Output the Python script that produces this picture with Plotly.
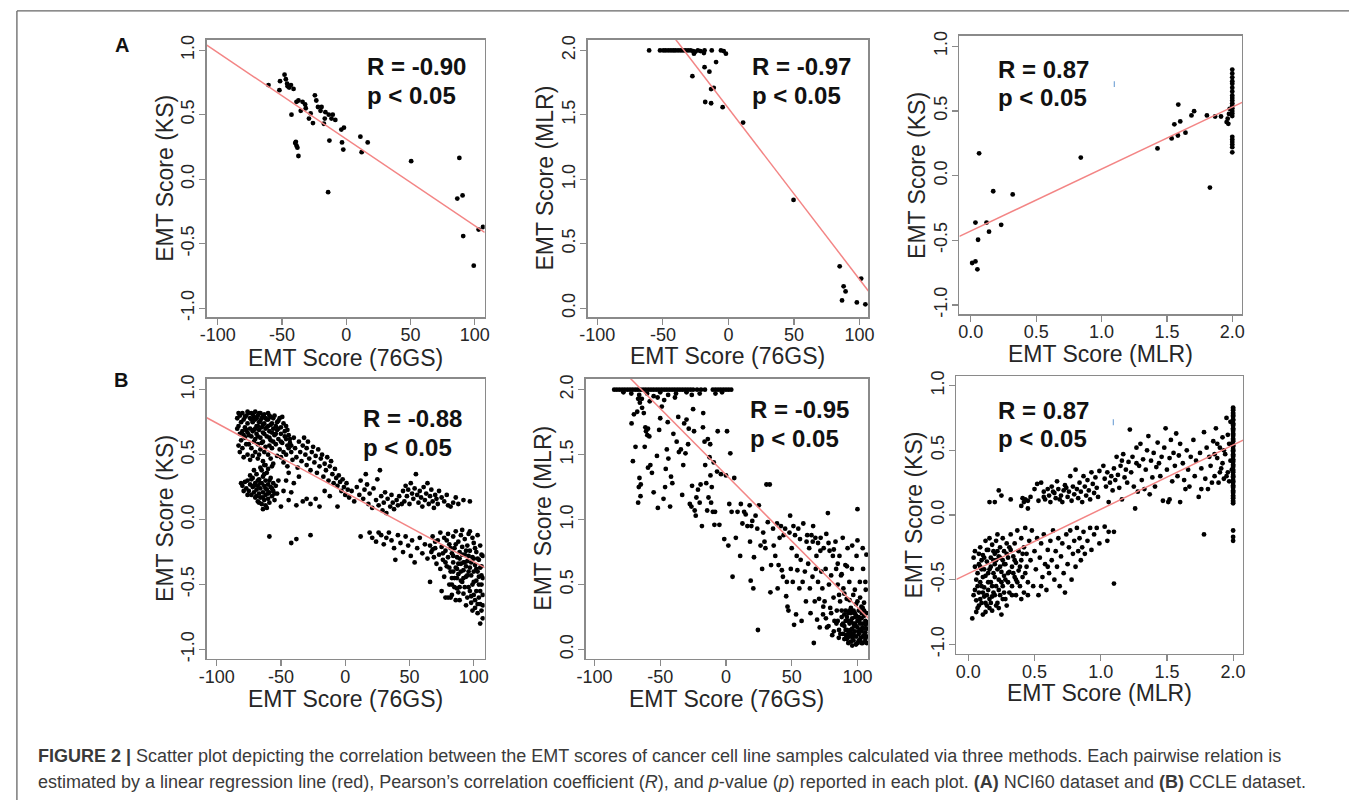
import plotly.graph_objects as go

W, H = 1355, 804

# ---------------- DATA ----------------
# Panel A1 : NCI60, KS vs 76GS
a1_x = [-60.5, -52, -51.5, -48, -47, -45.6, -44.4, -43, -42.6, -38.7, -37.2, -35.4, -34, -32, -31.5,
        -39.2, -38.7, -38, -37.2, -39.7, -29, -27.7, -25.9, -24.4, -23.3, -22, -20, -19.2, -17.4, -16.7,
        -16.2, -13.6, -13.1, -11.5, -10.5, -8.5, -14.1, -3.8, -1.8, -3.3, -2.3, 11, 12, 16.7, 50.5, 88,
        86.4, 90.5, 91, 99.2, 103, 106.4, -46, -41]
a1_y = [0.73, 0.69, 0.76, 0.81, 0.775, 0.72, 0.71, 0.73, 0.50, 0.60, 0.61, 0.53, 0.60, 0.58, 0.55,
        0.29, 0.26, 0.245, 0.18, 0.28, 0.47, 0.51, 0.435, 0.65, 0.61, 0.56, 0.53, 0.56, 0.43, 0.47,
        0.52, 0.50, 0.30, 0.47, 0.50, 0.46, -0.10, 0.385, 0.40, 0.285, 0.23, 0.33, 0.21, 0.285, 0.14, 0.165,
        -0.15, -0.125, -0.44, -0.67, -0.39, -0.37, 0.74, 0.70]

# Panel A2 : NCI60, MLR vs 76GS
a2_x = [-60.5, -52.2, -49.7, -47.9, -45.9, -43.9, -42.1, -40.4, -38.4, -36.4, -34.6, -32.8, -30.8, -28.8,
        -27, -25.3, -23.3, -21.3, -18.2, -12.7, -5.7, -3.6, -1.9, -26.3, -18.7, -27.5, -18.2, -14.5, -9.4,
        -13.2, -11.2, -17.7, -13.2, -4.4, 11.2, 49.7, 84.9, 87.9, 89.4, 86.7, 101.3, 98, 104.5]
a2_y = [2.0, 2.0, 2.0, 2.0, 2.0, 2.0, 2.0, 2.0, 2.0, 2.0, 2.0, 2.0, 2.0, 2.0,
        1.995, 1.99, 2.0, 1.995, 2.0, 2.0, 2.0, 1.995, 1.975, 1.975, 1.98, 1.80, 1.87, 1.835, 1.91,
        1.70, 1.71, 1.60, 1.59, 1.56, 1.44, 0.84, 0.325, 0.17, 0.13, 0.06, 0.23, 0.045, 0.03]

# Panel A3 : NCI60, KS vs MLR
a3_x = [0.063, 0.035, 0.055, 0.01, 0.035, 0.05, 0.12, 0.139, 0.171, 0.232, 0.32, 0.841, 1.428, 1.536,
        1.557, 1.584, 1.587, 1.602, 1.642, 1.688, 1.708, 1.806, 1.829, 1.869, 1.914, 1.957, 1.965, 1.975,
        1.98, 1.97,
        2.0, 2.0, 2.0, 2.0, 2.0, 2.0, 2.0, 2.0, 2.0, 2.0, 2.0, 2.0, 2.0, 2.0, 2.0, 2.0,
        2.0, 2.0, 2.0, 2.0, 2.0, 2.0]
a3_y = [0.172, -0.363, -0.496, -0.676, -0.664, -0.725, -0.363, -0.434, -0.121, -0.381, -0.146, 0.139, 0.21, 0.287,
        0.396, 0.31, 0.549, 0.419, 0.332, 0.465, 0.498, 0.465, -0.093, 0.457, 0.457, 0.414, 0.44, 0.477,
        0.516, 0.40,
        0.82, 0.79, 0.76, 0.73, 0.71, 0.68, 0.65, 0.62, 0.60, 0.58, 0.56, 0.54, 0.52, 0.50, 0.48, 0.46,
        0.30, 0.28, 0.26, 0.24, 0.22, 0.18]

# Panel B1 : CCLE, KS vs 76GS
b1_x = [-84, -83, -82, -81, -80, -80, -79, -78, -78, -77, -76, -76, -75, -75, -74, -74, -73, -73, -72, -72,
        -71, -71, -70, -70, -70, -69, -69, -68, -68, -67, -67, -66, -66, -66, -65, -65, -64, -64, -63, -63,
        -62, -62, -61, -61, -60, -60, -60, -59, -58, -58, -57, -57, -56, -55, -55, -54, -53, -53, -52, -51,
        -51, -50, -50, -49, -48, -48, -47, -46, -45, -44, -83, -82, -80, -79, -77, -76, -74, -72, -68, -64,
        -62, -58, -56, -53, -70, -67, -63, -59, -52, -49, -46, -44,
        -81, -80, -78, -77, -76, -75, -74, -73, -72, -72, -71, -70, -70, -69, -69, -68, -68, -67, -67, -66,
        -66, -65, -65, -65, -64, -64, -63, -63, -62, -62, -62, -61, -61, -60, -60, -59, -59, -58, -58, -57,
        -56, -56, -55, -54, -53, -52, -66, -63, -60, -57, -71, -74, -61, -64,
        -50, -48, -46, -45, -43, -42, -41, -40, -39, -38, -37, -36, -35, -34, -33, -32, -31, -30, -30, -29,
        -28, -27, -26, -25, -24, -23, -22, -21, -20, -19, -18, -17, -16, -15, -14, -13, -12, -11, -10, -9,
        -8, -7, -6, -5, -4, -3, -2, -1, 0, 1, 2, -44, -40, -36, -46, -48, -44, -38, -33, -30,
        -27, -20, -23, -6, -12, -16, -42, -50,
        -59, -42, -38, -27,
        3, 5, 7, 9, 11, 12, 14, 15, 17, 18, 19, 21, 22, 24, 25, 26, 28, 29, 30, 31,
        32, 33, 35, 36, 37, 38, 40, 41, 42, 44, 45, 46, 47, 48, 49, 50, 51, 52, 53, 54,
        55, 56, 57, 58, 59, 60, 61, 62, 63, 64, 65, 66, 67, 68, 69, 70, 71, 72, 73, 75,
        77, 79, 80, 82, 84, 86, 88, 92, 97, 27, 16,
        12, 19, 21, 24, 26, 28, 30, 32, 34, 36, 38, 39, 41, 43, 45, 47, 49, 51, 52, 54,
        56, 58, 60, 62, 64, 66, 68, 70,
        66, 67, 68, 69, 70, 71, 72, 73, 74, 74, 75, 76, 77, 77, 78, 79, 80, 80, 81, 81,
        82, 83, 83, 84, 84, 85, 85, 86, 86, 87, 87, 88, 88, 89, 89, 90, 90, 91, 91, 92,
        92, 93, 93, 94, 94, 95, 95, 96, 96, 97, 97, 98, 98, 99, 99, 100, 100, 101, 101, 102,
        102, 103, 103, 104, 104, 105, 105, 106, 106, 107, 107, 107, 105, 101, 98, 95, 92, 89, 86, 83,
        80, 78, 82, 75, 88, 94, 99, 103, 97, 91, 106, 104, 102, 100, 96, 93, 90, 87, 84,
        -84, -83, -82, -81, -79, -78, -77, -76, -75, -73, -73, -72, -71, -70, -69, -68, -68, -67, -66, -65,
        -64, -64, -63, -62, -61, -60, -59, -59, -58, -57, -56, -56, -54, -54, -52, -50, -47, -45, -43, -42,
        -79, -76, -73, -71, -69, -68, -67, -66, -64, -63, -62, -60, -59, -57, -55,
        76, 78, 79, 81, 82, 83, 84, 85, 86, 87, 88, 89, 90, 91, 92, 93, 94, 95, 96, 97,
        98, 99, 100, 101, 102, 103, 104, 105, 106, 107, 105, 103, 107, 106, 100]
b1_y = [0.78, 0.72, 0.80, 0.75, 0.68, 0.82, 0.77, 0.71, 0.63, 0.80, 0.74, 0.67, 0.82, 0.58, 0.78, 0.70, 0.64, 0.55, 0.81, 0.75,
        0.69, 0.60, 0.83, 0.77, 0.52, 0.72, 0.66, 0.80, 0.58, 0.75, 0.69, 0.82, 0.63, 0.54, 0.78, 0.71, 0.67, 0.60, 0.81, 0.74,
        0.70, 0.56, 0.77, 0.64, 0.82, 0.72, 0.50, 0.68, 0.79, 0.61, 0.74, 0.55, 0.70, 0.80, 0.65, 0.58, 0.75, 0.69, 0.62, 0.78,
        0.54, 0.71, 0.66, 0.59, 0.74, 0.52, 0.68, 0.62, 0.57, 0.65, 0.57, 0.52, 0.55, 0.48, 0.58, 0.50, 0.46, 0.49, 0.47, 0.45,
        0.42, 0.47, 0.43, 0.49, 0.62, 0.50, 0.52, 0.57, 0.70, 0.79, 0.72, 0.55,
        0.28, 0.26, 0.29, 0.24, 0.30, 0.22, 0.27, 0.19, 0.25, 0.32, 0.21, 0.17, 0.28, 0.23, 0.35, 0.14, 0.26, 0.20, 0.31, 0.17,
        0.24, 0.12, 0.28, 0.38, 0.21, 0.33, 0.15, 0.26, 0.19, 0.11, 0.30, 0.23, 0.36, 0.16, 0.27, 0.21, 0.13, 0.25, 0.32, 0.18,
        0.22, 0.28, 0.15, 0.26, 0.20, 0.30, 0.40, 0.42, 0.39, 0.41, 0.38, 0.34, 0.09, 0.08,
        0.48, 0.44, 0.50, 0.41, 0.59, 0.52, 0.46, 0.63, 0.55, 0.48, 0.40, 0.60, 0.52, 0.45, 0.57, 0.63, 0.50, 0.42, 0.55, 0.60,
        0.47, 0.38, 0.52, 0.56, 0.44, 0.49, 0.36, 0.54, 0.41, 0.47, 0.50, 0.33, 0.43, 0.38, 0.48, 0.30, 0.41, 0.45, 0.35, 0.28,
        0.39, 0.32, 0.26, 0.34, 0.29, 0.22, 0.31, 0.25, 0.19, 0.28, 0.23, 0.36, 0.28, 0.33, 0.30, 0.22, 0.15, 0.11, 0.14, 0.16,
        0.12, 0.10, 0.16, 0.10, 0.18, 0.22, 0.21, 0.10,
        -0.13, -0.18, -0.15, -0.12,
        0.17, 0.22, 0.14, 0.25, 0.19, 0.30, 0.16, 0.23, 0.27, 0.12, 0.20, 0.09, 0.24, 0.15, 0.31, 0.11, 0.18, 0.07, 0.13, 0.21,
        0.05, 0.16, 0.10, 0.19, 0.13, 0.08, 0.15, 0.11, 0.18, 0.12, 0.22, 0.14, 0.26, 0.18, 0.23, 0.12, 0.28, 0.20, 0.16, 0.24,
        0.35, 0.19, 0.13, 0.22, 0.17, 0.10, 0.25, 0.15, 0.20, 0.28, 0.12, 0.18, 0.23, 0.14, 0.09, 0.19, 0.16, 0.12, 0.22, 0.17,
        0.14, 0.19, 0.11, 0.10, 0.13, 0.17, 0.12, 0.15, 0.14, 0.38, 0.35,
        -0.13, -0.10, -0.14, -0.17, -0.10, -0.12, -0.19, -0.14, -0.10, -0.16, -0.22, -0.31, -0.12, -0.18, -0.25, -0.13, -0.20, -0.28, -0.16, -0.33,
        -0.22, -0.14, -0.26, -0.19, -0.30, -0.48, -0.23, -0.17,
        -0.20, -0.25, -0.13, -0.29, -0.22, -0.34, -0.16, -0.27, -0.10, -0.38, -0.21, -0.31, -0.14, -0.44, -0.24, -0.36, -0.11, -0.29, -0.50, -0.19,
        -0.40, -0.26, -0.58, -0.13, -0.33, -0.45, -0.22, -0.37, -0.09, -0.29, -0.53, -0.17, -0.42, -0.25, -0.62, -0.34, -0.12, -0.48, -0.21, -0.39,
        -0.57, -0.27, -0.15, -0.44, -0.66, -0.32, -0.20, -0.52, -0.11, -0.37, -0.24, -0.59, -0.43, -0.29, -0.70, -0.18, -0.48, -0.35, -0.62, -0.25,
        -0.55, -0.40, -0.72, -0.31, -0.50, -0.20, -0.65, -0.43, -0.36, -0.58, -0.28, -0.76, -0.80, -0.68, -0.64, -0.60, -0.45, -0.52, -0.62, -0.50,
        -0.60, -0.60, -0.60, -0.55, -0.34, -0.24, -0.14, -0.12, -0.09, -0.08, -0.50, -0.44, -0.38, -0.30, -0.28, -0.33, -0.40, -0.45, -0.40,
        0.70, 0.82, 0.66, 0.61, 0.65, 0.79, 0.69, 0.83, 0.65, 0.77, 0.82, 0.68, 0.79, 0.70, 0.78, 0.72, 0.64, 0.82, 0.76, 0.59,
        0.80, 0.73, 0.66, 0.78, 0.71, 0.77, 0.80, 0.63, 0.73, 0.67, 0.78, 0.60, 0.72, 0.66, 0.76, 0.60, 0.64, 0.69, 0.62, 0.57,
        0.22, 0.19, 0.31, 0.26, 0.18, 0.30, 0.13, 0.28, 0.17, 0.35, 0.24, 0.20, 0.30, 0.24, 0.20,
        -0.26, -0.33, -0.16, -0.37, -0.22, -0.45, -0.28, -0.52, -0.19, -0.38, -0.56, -0.30, -0.47, -0.27, -0.33, -0.52, -0.36, -0.43, -0.40, -0.55,
        -0.33, -0.50, -0.40, -0.22, -0.47, -0.30, -0.60, -0.37, -0.27, -0.45, -0.55, -0.65, -0.66, -0.70, -0.58]

# Panel B2 : CCLE, MLR vs 76GS
b2_x = [-85, -83, -81, -79, -77, -75, -73, -71, -69, -67, -65, -63, -61, -59, -57, -55, -53, -51, -49, -47,
        -45, -43, -41, -39, -37, -35, -33, -31, -29, -27, -25, -22, -19, -16, -10, -8, -6, -4, -2, 0, 2, 4,
        -78, -72, -66, -60, -55, -50, -44, -38, -30, -26, -20, -8, -3, -64, -58, -52, -47,
        -71.8, -70, -67.5, -65.5, -66.8, -63.8, -62.5, -61.3, -60.8, -59.8, -59.3, -58.3, -68.8, -70.8, -65.8, -64.8,
        -66.3, -66.8, -65, -61.8, -59.3, -57.5, -56.3, -52.5, -55, -51.8, -50.8, -50, -48.8, -47.5, -46.3, -45.8,
        -45, -44.3, -43.8, -42.5, -41.8, -40.8, -40, -38.8, -37.5, -36.3, -35.8, -34.3, -33.3, -32.5, -31.8, -30.8,
        -30, -28.8, -28.3, -27.5, -26.3, -25.8, -25, -24.3, -23.8, -23, -22.5, -21.3, -20, -19.3, -18.3, -17.5,
        -17.3, -16.3, -15.8, -15, -14.3, -13.8, -13.3, -12.5, -12, -11.8, -11.3, -10.8, -10, -9.3, -8.8, -8.3,
        -6.8, -6.3, -5, -3.8, -1.3, 0, 0.8, 1.8, 2.5, 3.3, 4.3, 5, 6.3,
        7.5, 8.8, 10.8, 11.3, 12.5, 13.8, 15, 16.3, 18, 18.3, 18.8, 19.3, 20, 20.8, 21.3, 22.5, 23.8, 24.3, 25, 26.3,
        27.5, 28.3, 29.3, 30, 30.8, 31.8, 33.3, 33.8, 34.3, 35.8, 36.3, 37.5, 38.8, 39.3, 40, 40.8, 41.8, 42.5, 43.3, 43.8,
        45, 45.8, 46.3, 46.8, 47.5, 48.3, 48.8, 49.3, 50, 50.8, 51.3, 51.8, 52.5, 53.3, 53.8, 54.3, 55, 55.8, 56.3, 56.8,
        57.5, 58.3, 58.8, 60, 60.8, 61.3, 61.8, 62.5, 63.3, 63.8, 64.3, 65, 65.8, 66.3, 66.8, 67.5, 68.3, 68.8, 69.3, 70,
        70.8, 71.3, 71.8, 72.5, 73.3, 73.8, 74.3, 75, 75.8, 76.3, 76.8, 77.5, 78.3, 78.8, 79.3, 80, 80.8, 81.3, 81.8, 82.5,
        83.3, 83.8, 84.3, 85, 85.8, 86.3, 86.8, 87.5, 88.3, 88.8, 89.3, 90, 90.8, 91.3, 91.8, 92.5, 93.3, 93.8, 94.3, 95,
        95.8, 96.3, 96.8, 97.5, 98.3, 98.8, 99.3, 100, 100, 100.8, 101.3, 101.8, 102.5, 103.3, 103.8, 104.3, 105, 105.8, 106.3, 106.3,
        106.8,
        88, 89, 90, 91, 92, 92, 93, 94, 94, 95, 95, 96, 96, 97, 97, 98, 98, 99, 99, 100,
        100, 101, 101, 102, 102, 103, 103, 104, 104, 105, 105, 106, 106, 107, 107, 107, 104, 99, 96, 93,
        86, 84, 82, 78, 76, 74, 80, 86, 90, 94, 98, 102, 106, 92, 88, 85, 82, 96, 100, 104,
        78, 72, 70, 68, 66,
        85, 87, 88, 89, 90, 91, 92, 93, 94, 95, 96, 97, 98, 99, 100, 101, 102, 103, 104, 105,
        106, 107, 103, 99, 95, 91, 97, 101, 105, 107]
b2_y = [2.0, 2.0, 2.0, 2.0, 2.0, 2.0, 2.0, 2.0, 2.0, 2.0, 2.0, 2.0, 2.0, 2.0, 2.0, 2.0, 2.0, 2.0, 2.0, 2.0,
        2.0, 2.0, 2.0, 2.0, 2.0, 2.0, 2.0, 2.0, 2.0, 2.0, 2.0, 2.0, 2.0, 2.0, 2.0, 2.0, 2.0, 2.0, 2.0, 2.0, 2.0, 2.0,
        1.98, 1.97, 1.96, 1.97, 1.95, 1.98, 1.96, 1.97, 1.98, 1.96, 1.97, 1.97, 1.98, 1.93, 1.91, 1.94, 1.92,
        1.74, 1.81, 1.83, 1.90, 1.93, 1.86, 1.82, 1.71, 1.68, 1.65, 1.70, 1.64, 1.56, 1.45, 1.32, 1.27,
        1.25, 1.13, 1.18, 1.56, 1.40, 1.42, 1.36, 1.49, 1.21, 1.09, 1.69, 1.78, 1.87, 1.16, 1.25, 1.39,
        1.54, 1.75, 1.47, 1.10, 1.33, 1.28, 1.66, 1.94, 1.60, 1.79, 1.52, 1.54, 1.19, 1.42, 1.74, 1.51,
        1.77, 1.58, 1.70, 1.12, 1.10, 1.26, 1.85, 1.68, 1.07, 1.03, 1.17, 1.23, 1.13, 1.27, 0.95, 1.71,
        1.82, 1.60, 1.42, 1.28, 1.07, 1.62, 1.17, 1.48, 1.58, 1.34, 1.13, 1.25, 1.06, 1.44, 0.96, 1.06,
        1.37, 1.68, 0.96, 1.35, 0.85, 1.34, 1.68, 0.80, 1.12, 1.51, 1.06, 0.56, 1.32,
        0.86, 1.06, 0.72, 1.12, 0.97, 1.06, 1.04, 0.95, 1.11, 0.83, 0.53, 0.95, 0.99, 0.47, 0.71, 1.03, 0.93, 0.15, 1.11, 0.80,
        0.62, 0.90, 0.83, 0.78, 1.27, 0.98, 1.27, 0.44, 0.65, 0.93, 0.80, 0.72, 0.97, 0.47, 0.65, 0.86, 0.95, 0.61, 0.56, 0.88,
        0.93, 0.41, 0.52, 0.33, 0.30, 0.90, 1.03, 0.62, 0.78, 0.52, 0.95, 0.19, 0.88, 0.27, 0.72, 0.61, 0.93, 0.47, 0.85, 0.69,
        0.22, 0.52, 0.97, 0.60, 0.37, 0.83, 0.88, 0.66, 0.78, 0.47, 0.28, 0.88, 0.56, 0.95, 0.05, 0.37, 0.62, 0.72, 0.23, 0.52,
        0.39, 0.17, 0.76, 0.60, 0.47, 0.27, 0.78, 0.37, 0.62, 0.89, 0.17, 1.05, 0.50, 0.76, 0.32, 0.57, 0.11, 0.72, 0.40, 0.22,
        0.83, 0.62, 0.30, 0.50, 0.09, 0.72, 0.37, 0.57, 0.19, 0.86, 0.47, 0.27, 0.65, 0.11, 0.39, 0.78, 0.22, 0.52, 0.14, 0.32,
        0.62, 0.09, 0.42, 0.18, 0.25, 0.04, 0.72, 1.08, 0.37, 0.14, 0.22, 0.52, 0.09, 0.28, 0.17, 0.62, 0.36, 0.06, 0.46, 0.19,
        0.73,
        0.25, 0.12, 0.18, 0.22, 0.08, 0.15, 0.28, 0.10, 0.20, 0.06, 0.15, 0.24, 0.12, 0.07, 0.30, 0.14, 0.20, 0.10, 0.26, 0.05,
        0.17, 0.12, 0.30, 0.20, 0.07, 0.14, 0.24, 0.10, 0.32, 0.16, 0.26, 0.08, 0.13, 0.21, 0.28, 0.10, 0.05, 0.04, 0.03, 0.05,
        0.15, 0.20, 0.14, 0.18, 0.24, 0.33, 0.28, 0.42, 0.43, 0.38, 0.46, 0.40, 0.52, 0.64, 0.58, 0.66, 0.77, 0.80, 0.84, 0.78,
        0.82, 0.86, 0.82, 0.86, 0.83,
        0.22, 0.12, 0.30, 0.20, 0.08, 0.15, 0.25, 0.12, 0.30, 0.22, 0.16, 0.12, 0.28, 0.18, 0.22, 0.07, 0.15, 0.05, 0.20, 0.11,
        0.22, 0.16, 0.33, 0.35, 0.28, 0.30, 0.20, 0.25, 0.30, 0.05]

# Panel B3 : CCLE, KS vs MLR
b3_x = [0.03, 0.04, 0.05, 0.05, 0.06, 0.07, 0.07, 0.08, 0.08, 0.09, 0.09, 0.10, 0.10, 0.11, 0.11, 0.12, 0.12, 0.13, 0.13, 0.14,
        0.14, 0.15, 0.15, 0.16, 0.16, 0.17, 0.17, 0.18, 0.18, 0.19, 0.19, 0.20, 0.20, 0.21, 0.21, 0.22, 0.22, 0.23, 0.23, 0.24,
        0.24, 0.25, 0.25, 0.26, 0.26, 0.27, 0.27, 0.28, 0.28, 0.29, 0.30, 0.30, 0.31, 0.31, 0.32, 0.32, 0.33, 0.33, 0.34, 0.35,
        0.35, 0.36, 0.36, 0.37, 0.38, 0.38, 0.39, 0.40, 0.40, 0.41, 0.42, 0.42, 0.43, 0.44, 0.44, 0.45, 0.46, 0.06, 0.09, 0.12,
        0.15, 0.18, 0.21, 0.24, 0.27, 0.29, 0.14, 0.17, 0.20, 0.23, 0.08, 0.11, 0.26, 0.22, 0.16, 0.36, 0.13, 0.19, 0.10,
        0.47, 0.48, 0.49, 0.50, 0.51, 0.52, 0.53, 0.54, 0.55, 0.56, 0.57, 0.58, 0.59, 0.60, 0.61, 0.62, 0.63, 0.64, 0.65, 0.66,
        0.67, 0.68, 0.69, 0.70, 0.71, 0.72, 0.73, 0.74, 0.75, 0.76, 0.77, 0.78, 0.79, 0.80, 0.81, 0.82, 0.83, 0.84, 0.85, 0.86,
        0.87, 0.88, 0.90, 0.92, 0.93, 0.95, 0.97, 0.99, 0.55, 0.45, 0.40, 0.60,
        0.16, 0.20, 0.23, 0.25, 0.32, 0.40, 0.41, 0.42, 0.43, 0.45, 0.47, 0.50, 0.52, 0.53, 0.55, 0.57, 0.58, 0.60, 0.61, 0.62,
        0.63, 0.65, 0.66, 0.67, 0.68, 0.70, 0.71, 0.72, 0.73, 0.75, 0.76, 0.77, 0.78, 0.79, 0.80, 0.81, 0.82, 0.83, 0.84, 0.85,
        0.86, 0.87, 0.88, 0.89, 0.90, 0.91, 0.92, 0.93, 0.94, 0.95, 0.96, 0.97, 0.98, 0.99, 0.57, 0.64, 0.74, 0.69, 0.45,
        1.02, 1.03, 1.04, 1.05, 1.06, 1.07, 1.08, 1.09, 1.10, 1.11, 1.12, 1.13, 1.14, 1.15, 1.16, 1.17, 1.18, 1.19, 1.20, 1.21,
        1.22, 1.23, 1.24, 1.25, 1.26, 1.27, 1.28, 1.29, 1.30, 1.31, 1.32, 1.33, 1.34, 1.35, 1.36, 1.37, 1.38, 1.39, 1.40, 1.41,
        1.42, 1.43, 1.45, 1.46, 1.47, 1.48, 1.49, 1.50, 1.51, 1.52, 1.53, 1.54, 1.55, 1.56, 1.57, 1.58, 1.59, 1.60, 1.62, 1.63,
        1.65, 1.66, 1.67, 1.68, 1.70, 1.71, 1.72, 1.74, 1.75, 1.76, 1.78, 1.79, 1.80, 1.81, 1.82, 1.83, 1.85, 1.86, 1.87, 1.88,
        1.89, 1.90, 1.91, 1.92, 1.93, 1.94, 1.95, 1.96, 1.97, 1.98, 1.98, 1.60, 1.52, 1.76, 1.16, 1.27, 1.44, 1.64,
        2.0, 2.0, 2.0, 2.0, 2.0, 2.0, 2.0, 2.0, 2.0, 2.0, 2.0, 2.0, 2.0, 2.0, 2.0, 2.0, 2.0, 2.0, 2.0, 2.0,
        2.0, 2.0, 2.0, 2.0, 2.0, 2.0, 2.0, 2.0, 2.0, 2.0, 2.0, 2.0, 2.0, 2.0, 2.0, 2.0, 2.0, 2.0,
        1.10, 1.78, 2.0, 2.0, 2.0, 1.05, 1.06, 1.10, 1.03,
        0.04, 0.05, 0.06, 0.07, 0.08, 0.09, 0.10, 0.11, 0.12, 0.13, 0.14, 0.15, 0.16, 0.17, 0.18, 0.19, 0.20, 0.21, 0.22, 0.23,
        0.24, 0.25, 0.26, 0.27, 0.28, 0.29, 0.30, 0.31, 0.33, 0.34, 0.35, 0.37, 0.39, 0.41, 0.43,
        1.84, 1.88, 1.92, 1.95, 1.96, 1.97, 1.93, 1.90, 1.86, 1.99,
        2.0, 2.0, 2.0, 2.0, 2.0, 2.0, 2.0, 2.0, 2.0, 2.0, 2.0, 2.0, 2.0, 2.0, 2.0, 2.0, 2.0, 2.0, 2.0]
b3_y = [-0.80, -0.33, -0.58, -0.28, -0.66, -0.45, -0.72, -0.38, -0.60, -0.25, -0.52, -0.68, -0.42, -0.77, -0.31, -0.56, -0.63, -0.20, -0.47, -0.36,
        -0.70, -0.58, -0.27, -0.42, -0.65, -0.33, -0.52, -0.23, -0.74, -0.45, -0.60, -0.30, -0.38, -0.55, -0.20, -0.68, -0.42, -0.32, -0.50, -0.25,
        -0.62, -0.44, -0.77, -0.35, -0.55, -0.28, -0.47, -0.65, -0.38, -0.22, -0.52, -0.33, -0.44, -0.60, -0.27, -0.15, -0.40, -0.55, -0.32, -0.48,
        -0.22, -0.62, -0.37, -0.12, -0.43, -0.28, -0.55, -0.35, -0.18, -0.48, -0.25, -0.60, -0.10, -0.40, -0.30, -0.52, -0.20, -0.50, -0.40, -0.33,
        -0.45, -0.55, -0.35, -0.40, -0.60, -0.70, -0.62, -0.68, -0.62, -0.72, -0.70, -0.48, -0.18, -0.15, -0.18, -0.50, -0.75, -0.28, -0.55,
        -0.35, -0.12, -0.55, -0.28, -0.42, -0.18, -0.62, -0.33, -0.22, -0.48, -0.15, -0.38, -0.58, -0.27, -0.45, -0.20, -0.35, -0.12, -0.50, -0.28,
        -0.40, -0.18, -0.55, -0.32, -0.22, -0.45, -0.60, -0.15, -0.38, -0.25, -0.12, -0.50, -0.30, -0.20, -0.40, -0.10, -0.28, -0.18, -0.35, -0.25,
        -0.13, -0.30, -0.20, -0.10, -0.27, -0.15, -0.10, -0.22, -0.55, -0.62, -0.65, -0.40,
        0.10, 0.10, 0.19, 0.15, 0.12, 0.07, 0.13, 0.10, 0.12, 0.05, 0.14, 0.20, 0.24, 0.11, 0.25, 0.18, 0.12, 0.20, 0.15, 0.10,
        0.22, 0.17, 0.13, 0.26, 0.20, 0.15, 0.10, 0.19, 0.23, 0.14, 0.18, 0.30, 0.11, 0.22, 0.16, 0.35, 0.20, 0.13, 0.25, 0.18,
        0.10, 0.30, 0.22, 0.15, 0.27, 0.19, 0.12, 0.33, 0.24, 0.17, 0.29, 0.21, 0.14, 0.34, 0.14, 0.18, 0.21, 0.12, 0.11,
        0.38, 0.28, 0.22, 0.33, 0.10, 0.25, 0.30, 0.19, 0.36, 0.27, 0.45, 0.31, 0.21, 0.38, 0.12, 0.47, 0.29, 0.35, 0.25, 0.41,
        0.66, 0.33, 0.45, 0.22, 0.05, 0.52, 0.18, 0.38, 0.55, 0.27, 0.43, 0.20, 0.35, 0.50, 0.61, 0.16, 0.42, 0.29, 0.48, 0.22,
        0.37, 0.56, 0.30, 0.45, 0.11, 0.52, 0.67, 0.35, 0.10, 0.44, 0.58, 0.26, 0.48, 0.38, 0.63, 0.30, 0.46, 0.55, 0.40, 0.27,
        0.50, 0.35, 0.22, 0.45, 0.58, 0.30, 0.42, 0.14, 0.48, 0.36, 0.64, 0.28, 0.52, 0.20, 0.45, 0.38, 0.57, 0.30, 0.67, 0.44,
        0.25, 0.52, 0.36, 0.60, 0.28, 0.47, 0.75, 0.33, 0.55, 0.42, 0.72, 0.10, 0.12, 0.20, 0.42, 0.40, 0.40, 0.20,
        0.83, 0.81, 0.79, 0.77, 0.76, 0.73, 0.71, 0.69, 0.67, 0.65, 0.63, 0.61, 0.59, 0.57, 0.55, 0.53, 0.51, 0.49, 0.47, 0.45,
        0.43, 0.41, 0.39, 0.37, 0.35, 0.33, 0.31, 0.29, 0.27, 0.25, 0.23, 0.21, 0.19, 0.17, 0.15, 0.13, 0.11, 0.09,
        -0.53, -0.15, -0.12, -0.17, -0.20, -0.20, -0.13, -0.13, -0.09,
        -0.62, -0.40, -0.75, -0.55, -0.30, -0.65, -0.35, -0.60, -0.42, -0.68, -0.27, -0.52, -0.72, -0.40, -0.63, -0.35, -0.48, -0.70, -0.28, -0.58,
        -0.33, -0.52, -0.65, -0.38, -0.50, -0.30, -0.45, -0.25, -0.62, -0.45, -0.35, -0.52, -0.40, -0.30, -0.45,
        0.25, 0.55, 0.40, 0.30, 0.62, 0.26, 0.50, 0.33, 0.47, 0.35,
        0.82, 0.78, 0.74, 0.70, 0.66, 0.62, 0.58, 0.54, 0.50, 0.46, 0.42, 0.38, 0.34, 0.30, 0.26, 0.22, 0.18, 0.14, 0.10]

# Regression lines (slope, intercept)
fit_slope = [-0.00671, -0.01327, 0.479, -0.005337, -0.0102, 0.497]
fit_intercept = [0.311, 1.551, -0.428, 0.209, 1.345, -0.453]

stat_r = ["R = -0.90", "R = -0.97", "R = 0.87", "R = -0.88", "R = -0.95", "R = 0.87"]
stat_p = ["p < 0.05"] * 6

x_titles = ["EMT Score (76GS)", "EMT Score (76GS)", "EMT Score (MLR)",
            "EMT Score (76GS)", "EMT Score (76GS)", "EMT Score (MLR)"]
y_titles = ["EMT Score (KS)", "EMT Score (MLR)", "EMT Score (KS)",
            "EMT Score (KS)", "EMT Score (MLR)", "EMT Score (KS)"]

gs_ticks = [-100, -50, 0, 50, 100]
gs_labels = ["-100", "-50", "0", "50", "100"]
ks_ticks = [-1.0, -0.5, 0.0, 0.5, 1.0]
ks_labels = ["-1.0", "-0.5", "0.0", "0.5", "1.0"]
mlr_ticks = [0.0, 0.5, 1.0, 1.5, 2.0]
mlr_labels = ["0.0", "0.5", "1.0", "1.5", "2.0"]

caption_1 = ("<b>FIGURE 2 |</b> Scatter plot depicting the correlation between the EMT scores of cancer cell "
             "line samples calculated via three methods. Each pairwise relation is")
caption_2 = ("estimated by a linear regression line (red), Pearson’s correlation coefficient (<i>R</i>), and "
             "<i>p</i>-value (<i>p</i>) reported in each plot. <b>(A)</b> NCI60 dataset and <b>(B)</b> CCLE dataset.")

# ---------------- LAYOUT GEOMETRY (pixels) ----------------
panels = [
    dict(x=a1_x, y=a1_y, box=(200, 481, 35, 316), xr=[-108.5, 107.7], yr=[-1.071, 1.082], xt="gs", yt="ks",
         stat=(360, 62, 92), xtitle_y=357),
    dict(x=a2_x, y=a2_y, box=(585, 869, 35, 316), xr=[-107.5, 106.8], yr=[-0.072, 2.084], xt="gs", yt="mlr",
         stat=(749, 62, 92), xtitle_y=355),
    dict(x=a3_x, y=a3_y, box=(961, 1247, 31, 313), xr=[-0.088, 2.076], yr=[-1.074, 1.082], xt="mlr", yt="ks",
         stat=(998, 65, 94), xtitle_y=353),
    dict(x=b1_x, y=b1_y, box=(200, 481, 378, 661), xr=[-107.7, 108.5], yr=[-1.07, 1.084], xt="gs", yt="ks",
         stat=(356, 418, 448), xtitle_y=702),
    dict(x=b2_x, y=b2_y, box=(583, 869, 378, 661), xr=[-106.8, 108.3], yr=[-0.07, 2.084], xt="gs", yt="mlr",
         stat=(747, 409, 438), xtitle_y=702),
    dict(x=b3_x, y=b3_y, box=(958, 1248, 375, 656), xr=[-0.09, 2.076], yr=[-1.072, 1.076], xt="mlr", yt="ks",
         stat=(998, 410, 438), xtitle_y=696),
]
tick_sets = {"gs": (gs_ticks, gs_labels), "ks": (ks_ticks, ks_labels), "mlr": (mlr_ticks, mlr_labels)}

FONT = "Liberation Sans, Arial, Helvetica, sans-serif"
BOX_COLOR = "#8a8a8a"
TXT = "#262626"

def px(xp):
    return xp / W

def py(yp):
    return 1 - yp / H

fig = go.Figure()
layout = dict(width=W, height=H, autosize=False, margin=dict(l=0, r=0, t=0, b=0, pad=0),
              paper_bgcolor="white", plot_bgcolor="white", showlegend=False)
annotations = []
shapes = []

for i, p in enumerate(panels):
    n = "" if i == 0 else str(i + 1)
    xa, ya = "x" + n, "y" + n
    l, r, t, b = p["box"]
    xtv, xtl = tick_sets[p["xt"]]
    ytv, ytl = tick_sets[p["yt"]]
    layout["xaxis" + n] = dict(domain=[px(l), px(r)], range=p["xr"], anchor=ya,
                               showgrid=False, zeroline=False, showline=True, mirror=True,
                               linecolor=BOX_COLOR, linewidth=1.3,
                               ticks="outside", ticklen=6, tickwidth=1.2, tickcolor=BOX_COLOR,
                               tickvals=xtv, ticktext=xtl, ticklabelstandoff=-5,
                               tickfont=dict(family=FONT, size=18, color=TXT))
    layout["yaxis" + n] = dict(domain=[py(b), py(t)], range=p["yr"], anchor=xa,
                               showgrid=False, zeroline=False, showline=True, mirror=True,
                               linecolor=BOX_COLOR, linewidth=1.3,
                               ticks="outside", ticklen=6, tickwidth=1.2, tickcolor=BOX_COLOR,
                               tickvals=ytv, ticktext=ytl, tickangle=-90, ticklabelstandoff=-2,
                               tickfont=dict(family=FONT, size=18, color=TXT))
    # points
    fig.add_trace(go.Scatter(x=p["x"], y=p["y"], mode="markers", xaxis=xa, yaxis=ya,
                             marker=dict(color="black", size=4.8, line=dict(width=0)),
                             hoverinfo="skip"))
    # regression line across the whole axis range
    lx = list(p["xr"])
    ly = [fit_intercept[i] + fit_slope[i] * v for v in lx]
    fig.add_trace(go.Scatter(x=lx, y=ly, mode="lines", xaxis=xa, yaxis=ya,
                             line=dict(color="#f38585", width=1.5), hoverinfo="skip"))
    # stats text
    sx, sy1, sy2 = p["stat"]
    for txt, yy in ((stat_r[i], sy1), (stat_p[i], sy2)):
        annotations.append(dict(text="<b>%s</b>" % txt, x=px(sx), y=py(yy), xref="paper", yref="paper",
                                xanchor="left", yanchor="middle", showarrow=False,
                                font=dict(family=FONT, size=24, color="#111")))
    # axis titles
    annotations.append(dict(text=x_titles[i], x=px((l + r) / 2), y=py(p["xtitle_y"]),
                            xref="paper", yref="paper", xanchor="center", yanchor="middle",
                            showarrow=False, font=dict(family=FONT, size=23, color=TXT)))
    annotations.append(dict(text=y_titles[i], x=px(l - 43), y=py((t + b) / 2), textangle=-90,
                            xref="paper", yref="paper", xanchor="center", yanchor="middle",
                            showarrow=False, font=dict(family=FONT, size=23, color=TXT)))

# panel letters
for letter, xx, yy in (("A", 114, 40), ("B", 113, 379)):
    annotations.append(dict(text="<b>%s</b>" % letter, x=px(xx), y=py(yy), xref="paper", yref="paper",
                            xanchor="center", yanchor="middle", showarrow=False,
                            font=dict(family=FONT, size=20, color="#111")))

# caption
for txt, yy in ((caption_1, 759), (caption_2, 786)):
    annotations.append(dict(text=txt, x=px(27), y=py(yy), xref="paper", yref="paper",
                            xanchor="left", yanchor="middle", showarrow=False, align="left",
                            font=dict(family=FONT, size=18, color="#3a3a3a")))

# outer frame (top and left edges)
shapes.append(dict(type="line", xref="paper", yref="paper", x0=px(8), x1=1, y0=py(6), y1=py(6),
                   line=dict(color="#666", width=1.3)))
shapes.append(dict(type="line", xref="paper", yref="paper", x0=px(8), x1=px(8), y0=py(6), y1=0,
                   line=dict(color="#666", width=1.3)))
# small blue marks seen in the right-hand panels
for xx, yy in ((1117.7, 80), (1116.7, 422)):
    shapes.append(dict(type="line", xref="paper", yref="paper", x0=px(xx), x1=px(xx),
                       y0=py(yy - 3), y1=py(yy + 3), line=dict(color="#7aa7d8", width=1.2)))

layout["annotations"] = annotations
layout["shapes"] = shapes
fig.update_layout(**layout)
fig.write_html("out.html",
               config={"displayModeBar": False, "staticPlot": True},
               post_script="document.documentElement.style.margin='0';"
                           "document.body.style.margin='0';document.body.style.padding='0';"
                           "document.body.style.overflow='hidden';"
                           "document.documentElement.style.overflow='hidden';")
